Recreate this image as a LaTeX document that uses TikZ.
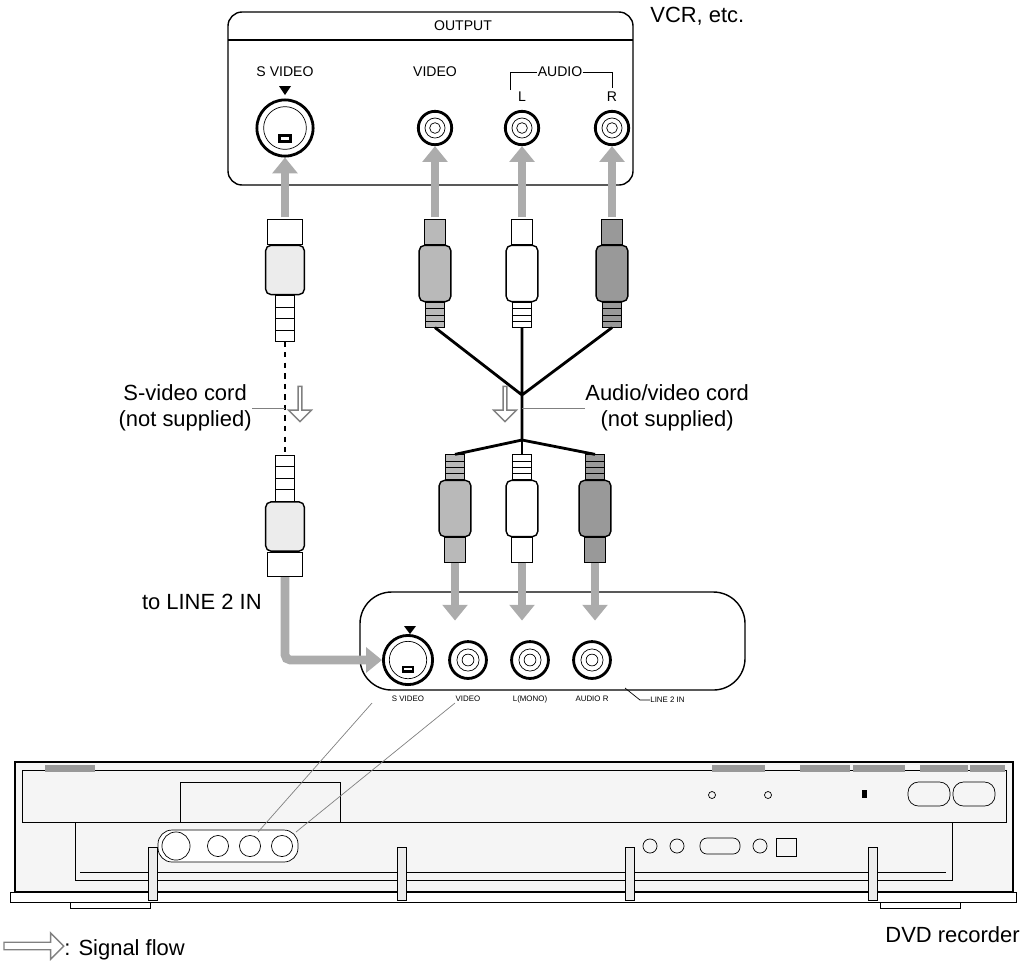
\documentclass[tikz,border=0pt]{standalone}
\usepackage{fontspec}
\setmainfont{Liberation Sans}
\usetikzlibrary{arrows.meta, positioning, shapes.arrows, calc}

\begin{document}
\begin{tikzpicture}[x=0.02cm, y=-0.02cm,
  every node/.style={align=center, inner sep=0pt},
  lbl/.style={font=\fontsize{8}{9}\selectfont},
  big/.style={font=\fontsize{12.5}{15}\selectfont},
  tiny/.style={font=\fontsize{4.5}{5}\selectfont},
  jack/.style={circle, draw, line width=1.6pt, fill=white, minimum size=#1,
    path picture={\draw[thin] (path picture bounding box.center) circle (0.3*#1);
      \draw[thin] (path picture bounding box.center) circle (0.16*#1);}},
  sjack/.style={circle, draw, line width=1.6pt, fill=white, minimum size=#1,
    path picture={\draw[thin] (path picture bounding box.center) circle (0.38*#1);
      \fill (path picture bounding box.center) ++(-0.16*#1,0.08*#1) circle (0.05*#1)
        ++(0.32*#1,0) circle (0.05*#1);
      \fill (path picture bounding box.center) ++(-0.2*#1,-0.06*#1) circle (0.05*#1)
        ++(0.4*#1,0) circle (0.05*#1);
      \draw (path picture bounding box.center) ++(-0.1*#1,-0.14*#1) rectangle ++(0.2*#1,-0.1*#1);}},
  flow/.style={draw=gray!65, line width=5pt, -{Triangle[length=9pt, width=14pt]}},
  sig/.style={single arrow, draw=gray, fill=white, thick, minimum height=20pt,
    minimum width=13pt, single arrow head extend=2pt, shape border rotate=270},
  pin/.style={rectangle, draw, fill=#1, minimum width=12pt, minimum height=14pt},
  body/.style={rectangle, draw, thick, fill=#1, rounded corners=3pt,
    minimum width=18pt, minimum height=32pt},
  boot/.style={rectangle, draw, fill=#1, minimum width=11pt, minimum height=14pt,
    path picture={\foreach \k in {0.25,0.5,0.75}
      \draw ($(path picture bounding box.north west)!\k!(path picture bounding box.south west)$)
        -- ++(20pt,0);}},
  cord/.style={line width=1.6pt}
]
\useasboundingbox (0,0) rectangle (1026,965);

% VCR output panel
\draw[thick, rounded corners=8pt] (228,12) rectangle (633,185);
\draw[thick] (228,40) -- (633,40);
\node[lbl] (out) at (463,26) {OUTPUT};
\node[big, anchor=west] (vcr) at (650,16) {VCR, etc.};
\node[lbl] (lsv) at (285,72) {S VIDEO};
\node[lbl] (lv) at (435,72) {VIDEO};
\node[lbl] (la) at (560,72) {AUDIO};
\node[lbl] (ll) at (522,97) {L};
\node[lbl] (lr) at (612,97) {R};
\draw (510,90) |- (la.west) (la.east) -| (612,88);
\fill (279,86) -- (291,86) -- (285,95) -- cycle;

\node[sjack=32pt] (svj) at (285,128) {};
\node[jack=19pt] (vj) at (435,128) {};
\node[jack=19pt] (lj) at (522,128) {};
\node[jack=19pt] (rj) at (612,128) {};

% upper plugs
\foreach \n/\x/\c in {v/435/gray!55, l/522/white, r/612/gray!80} {
  \node[pin=\c] (tp\n) at (\x,232) {};
  \node[body=\c, below=0pt of tp\n] (tb\n) {};
  \node[boot=\c, below=0pt of tb\n] (tk\n) {};
}
\coordinate (jup) at (522,395);
\coordinate (jdn) at (522,440);
\draw[cord] (tkv.south) -- (jup) (tkl.south) -- (jup) (tkr.south) -- (jup) -- (jdn);

% lower plugs
\foreach \n/\x/\c in {v/455/gray!55, l/522/white, r/595/gray!80} {
  \node[boot=\c] (bk\n) at (\x,467) {};
  \node[body=\c, below=0pt of bk\n] (bb\n) {};
  \node[pin=\c, below=0pt of bb\n] (bp\n) {};
  \draw[cord] (jdn) -- (bk\n.north);
}

% S-video plugs
\node[pin=white, minimum width=20pt] (sph) at (285,232) {};
\node[body=gray!15, below=0pt of sph, minimum width=22pt, minimum height=28pt] (spb) {};
\node[boot=white, below=0pt of spb, minimum height=26pt] (spk) {};
\node[boot=white, minimum height=26pt] (sqk) at (285,478) {};
\node[body=gray!15, below=0pt of sqk, minimum width=22pt, minimum height=28pt] (sqb) {};
\node[pin=white, below=0pt of sqb, minimum width=20pt] (sqh) {};
\draw[cord, dashed] (spk.south) -- (sqk.north);

% signal flow
\foreach \n in {v,l,r} \draw[flow] ($(tp\n.north)+(0,-2)$) -- (\n j.south);
\draw[flow] ($(sph.north)+(0,-2)$) -- (svj.south);

\node[sig] (ssig) at (300,403) {};
\node[sig] (asig) at (505,403) {};
\node[big, anchor=east] (scord) at (252,408) {S-video cord\\(not supplied)};
\node[big, anchor=west] (acord) at (585,408) {Audio/video cord\\(not supplied)};
\draw[gray] (scord.east) -- (285,408);
\draw[gray] (acord.west) -- (522,408);
\node[big, anchor=east] (line2) at (262,602) {to LINE 2 IN};

% recorder input panel
\draw[thick, rounded corners=18pt] (360,592) rectangle (745,690);
\node[sjack=28pt] (psv) at (408,660) {};
\node[jack=21pt] (pv) at (468,660) {};
\node[jack=21pt] (pl) at (530,660) {};
\node[jack=21pt] (pr) at (592,660) {};
\fill (404,626) -- (416,626) -- (410,634) -- cycle;
\foreach \n/\x/\t in {a/408/S VIDEO, b/468/VIDEO, c/530/L(MONO), d/592/AUDIO R}
  \node[tiny] (pt\n) at (\x,699) {\t};
\node[tiny, anchor=west] (pline) at (650,700) {LINE 2 IN};
\draw (625,688) -- (640,700) -- (pline.west);

\foreach \n in {v,l,r} \draw[flow] (bp\n.south) -- ($(bp\n.south)+(0,58)$);
\draw[flow, rounded corners=3pt] (sqh.south) |- (psv.west);

% DVD recorder
\draw[thick, fill=gray!8] (15,762) rectangle (1013,892);
\draw (22,770) rectangle (1006,822);
\draw (180,782) rectangle (340,822);
\draw (75,822) rectangle (952,880);
\draw (80,872) -- (946,872);
\fill[gray!80] (45,765) rectangle (95,772);
\foreach \a/\b in {712/765,800/850,853/905,920/968,970/1005}
  \fill[gray!80] (\a,765) rectangle (\b,772);
\draw[rounded corners=6pt] (908,782) rectangle (950,806);
\draw[rounded corners=6pt] (953,782) rectangle (995,806);
\fill (862,790) rectangle (867,798);
\draw (712,795) circle (2pt) (768,795) circle (2pt);
\draw[rounded corners=8pt, fill=white] (158,830) rectangle (298,862);
\draw (176,846) circle (8pt);
\foreach \x in {218,250,282} \draw (\x,846) circle (6pt);
\foreach \x in {650,677,760} \draw (\x,846) circle (4pt);
\draw[rounded corners=4pt] (700,838) rectangle (740,854);
\draw (776,838) rectangle (796,856);
\draw (10,892) rectangle (1016,902);
\foreach \x in {148,397,625,868} \draw[fill=gray!15] (\x,847) rectangle (\x+9,900);
\draw (70,902) rectangle (150,908) (880,902) rectangle (960,908);

% callout
\draw[gray] (372,703) -- (258,832);
\draw[gray] (455,703) -- (296,832);

\node[big, anchor=east] (dvd) at (1020,935) {DVD recorder};
\node[sig, shape border rotate=0, minimum height=34pt, minimum width=15pt,
  single arrow head extend=1pt] (legend) at (32,946) {};
\node[big, anchor=west] (legtxt) at (64,950) {: Signal flow};
\end{tikzpicture}
\end{document}
